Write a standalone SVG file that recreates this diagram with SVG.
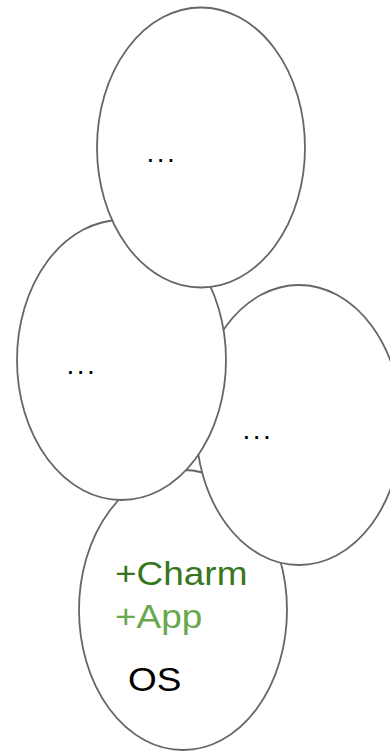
<svg xmlns="http://www.w3.org/2000/svg" width="390" height="753" viewBox="0 0 390 753">
<style>
.e{fill:#ffffff;stroke:#666666;stroke-width:1.8}
.dots{font-family:"Liberation Sans",Arial,sans-serif;font-size:28px;fill:#000000;letter-spacing:2.5px}
.big{font-family:"Liberation Sans",Arial,sans-serif;font-size:33px}
</style>
<rect width="390" height="753" fill="#ffffff"/>
<g id="connectors"></g>
<g id="node-os">
<ellipse class="e" cx="183" cy="610" rx="104" ry="140"/>
<text class="big" fill="#38761d" transform="translate(115,585) scale(1.12,1)">+Charm</text>
<text class="big" fill="#6aa84f" transform="translate(115,628) scale(1.12,1)">+App</text>
<text class="big" fill="#000000" transform="translate(128,691) scale(1.12,1)">OS</text>
</g>
<g id="node-right">
<ellipse class="e" cx="299" cy="425" rx="103" ry="140"/>
<text class="dots" x="242.5" y="438.5">...</text>
</g>
<g id="node-left">
<ellipse class="e" cx="121.5" cy="360" rx="104.5" ry="140"/>
<text class="dots" x="66.5" y="373.5">...</text>
</g>
<g id="node-top">
<ellipse class="e" cx="201" cy="147.5" rx="104" ry="140"/>
<text class="dots" x="146.5" y="161.5">...</text>
</g>
</svg>
